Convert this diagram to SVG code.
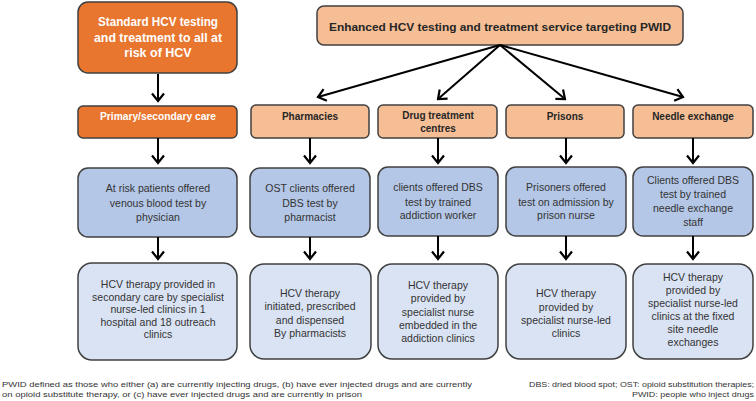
<svg xmlns="http://www.w3.org/2000/svg" width="756" height="401" viewBox="0 0 756 401">
<style>
text{font-family:"Liberation Sans",Arial,sans-serif;text-anchor:middle}
.dark{fill:#E8762F;stroke:#404040;stroke-width:1.5}
.light{fill:#F6BE95;stroke:#404040;stroke-width:1.5}
.blue{fill:#B4C7E7;stroke:#404040;stroke-width:1.5}
.pale{fill:#DAE3F3;stroke:#404040;stroke-width:1.5}
.wt{fill:#ffffff;font-weight:bold}
.bt{fill:#262626;font-weight:bold;font-size:10px}
.nt{fill:#333333;font-size:10.5px}
.fn{fill:#333333;font-size:8px}
.arr{stroke:#000;stroke-width:2;fill:none;marker-end:url(#ah)}
</style>
<defs>
<marker id="ah" viewBox="-9 -7 11 14" markerWidth="11" markerHeight="14" refX="0" refY="0" orient="auto" markerUnits="userSpaceOnUse">
<path d="M-7.5,-6 L0,0 L-7.5,6" fill="none" stroke="#000" stroke-width="2.2"/>
</marker>
</defs>
<rect width="756" height="401" fill="#ffffff"/>

<g id="standard">
<rect class="dark" x="78" y="2" width="159" height="71" rx="10"/>
<text class="wt" x="158" y="26" font-size="12.5" textLength="120" lengthAdjust="spacingAndGlyphs">Standard  HCV testing</text>
<text class="wt" x="158" y="41.5" font-size="12.5" textLength="128" lengthAdjust="spacingAndGlyphs">and treatment to all at</text>
<text class="wt" x="158" y="57" font-size="12.5">risk of HCV</text>
</g>
<g id="enhanced">
<rect class="light" x="317" y="6" width="366" height="39" rx="7"/>
<text class="bt" x="500" y="31" style="font-size:11.5px" textLength="342" lengthAdjust="spacingAndGlyphs">Enhanced  HCV testing and treatment service targeting PWID</text>
</g>

<g id="primary">
<rect class="dark" x="78" y="106" width="159" height="32" rx="5"/>
<text class="wt" x="158" y="119.5" font-size="10" textLength="116" lengthAdjust="spacingAndGlyphs">Primary/secondary care</text>
</g>
<g id="pharmacies">
<rect class="light" x="251" y="105" width="118" height="33" rx="5"/>
<text class="bt" x="310" y="119.5">Pharmacies</text>
</g>
<g id="drug">
<rect class="light" x="378" y="105" width="119" height="33" rx="5"/>
<text class="bt" x="438" y="118.5">Drug treatment</text>
<text class="bt" x="438" y="131.5">centres</text>
</g>
<g id="prisons">
<rect class="light" x="506" y="105" width="118" height="33" rx="5"/>
<text class="bt" x="565" y="119.5">Prisons</text>
</g>
<g id="needle">
<rect class="light" x="633" y="105" width="120" height="33" rx="5"/>
<text class="bt" x="693" y="119.5">Needle exchange</text>
</g>

<g id="test1">
<rect class="blue" x="78" y="168" width="159" height="69" rx="10"/>
<text class="nt" x="158" y="192">At risk patients offered</text>
<text class="nt" x="158" y="206.5">venous blood test by</text>
<text class="nt" x="158" y="221">physician</text>
</g>
<g id="test2">
<rect class="blue" x="250" y="168" width="120" height="69" rx="10"/>
<text class="nt" x="310" y="192">OST clients offered</text>
<text class="nt" x="310" y="206.5">DBS test by</text>
<text class="nt" x="310" y="221">pharmacist</text>
</g>
<g id="test3">
<rect class="blue" x="378" y="167" width="120" height="69" rx="10"/>
<text class="nt" x="438" y="191">clients offered DBS</text>
<text class="nt" x="438" y="205.5">test by trained</text>
<text class="nt" x="438" y="219">addiction worker</text>
</g>
<g id="test4">
<rect class="blue" x="506" y="167" width="120" height="69" rx="10"/>
<text class="nt" x="566" y="191">Prisoners offered</text>
<text class="nt" x="566" y="205.5">test on admission by</text>
<text class="nt" x="566" y="219">prison nurse</text>
</g>
<g id="test5">
<rect class="blue" x="633" y="167" width="120" height="69" rx="10"/>
<text class="nt" x="693" y="184">Clients offered DBS</text>
<text class="nt" x="693" y="198">test by trained</text>
<text class="nt" x="693" y="212">needle exchange</text>
<text class="nt" x="693" y="226">staff</text>
</g>

<g id="therapy1">
<rect class="pale" x="78" y="263" width="159" height="97" rx="14"/>
<text class="nt" x="158" y="288">HCV therapy provided in</text>
<text class="nt" x="158" y="300.5">secondary care by specialist</text>
<text class="nt" x="158" y="313">nurse-led clinics in 1</text>
<text class="nt" x="158" y="325.5">hospital and 18  outreach</text>
<text class="nt" x="158" y="338">clinics</text>
</g>
<g id="therapy2">
<rect class="pale" x="250" y="264" width="121" height="95" rx="14"/>
<text class="nt" x="310" y="297">HCV therapy</text>
<text class="nt" x="310" y="310">initiated, prescribed</text>
<text class="nt" x="310" y="323.5">and dispensed</text>
<text class="nt" x="310" y="336.5">By pharmacists</text>
</g>
<g id="therapy3">
<rect class="pale" x="378" y="264" width="120" height="95" rx="14"/>
<text class="nt" x="438" y="289">HCV therapy</text>
<text class="nt" x="438" y="302">provided by</text>
<text class="nt" x="438" y="315.5">specialist nurse</text>
<text class="nt" x="438" y="328.5">embedded in the</text>
<text class="nt" x="438" y="342">addiction clinics</text>
</g>
<g id="therapy4">
<rect class="pale" x="506" y="264" width="120" height="95" rx="14"/>
<text class="nt" x="566" y="297">HCV therapy</text>
<text class="nt" x="566" y="310.5">provided by</text>
<text class="nt" x="566" y="324">specialist nurse-led</text>
<text class="nt" x="566" y="337">clinics</text>
</g>
<g id="therapy5">
<rect class="pale" x="633" y="264" width="120" height="95" rx="14"/>
<text class="nt" x="693" y="281">HCV therapy</text>
<text class="nt" x="693" y="293.5">provided by</text>
<text class="nt" x="693" y="307">specialist nurse-led</text>
<text class="nt" x="693" y="320">clinics at the fixed</text>
<text class="nt" x="693" y="333">site needle</text>
<text class="nt" x="693" y="346">exchanges</text>
</g>

<g id="connectors">
<line class="arr" x1="158" y1="74" x2="158" y2="101"/>
<line class="arr" x1="500" y1="45" x2="318" y2="97"/>
<line class="arr" x1="500" y1="45" x2="438" y2="99"/>
<line class="arr" x1="500" y1="45" x2="565" y2="99"/>
<line class="arr" x1="500" y1="45" x2="683" y2="97"/>
<line class="arr" x1="158" y1="138" x2="158" y2="163"/>
<line class="arr" x1="310" y1="138" x2="310" y2="163"/>
<line class="arr" x1="438" y1="138" x2="438" y2="163"/>
<line class="arr" x1="566" y1="138" x2="566" y2="163"/>
<line class="arr" x1="693" y1="138" x2="693" y2="163"/>
<line class="arr" x1="158" y1="237" x2="158" y2="259"/>
<line class="arr" x1="310" y1="237" x2="310" y2="259"/>
<line class="arr" x1="438" y1="236" x2="438" y2="259"/>
<line class="arr" x1="566" y1="236" x2="566" y2="259"/>
<line class="arr" x1="693" y1="236" x2="693" y2="259"/>
</g>

<g id="footnotes">
<text class="fn" x="2" y="387" style="text-anchor:start" textLength="470" lengthAdjust="spacingAndGlyphs">PWID defined as those who either (a) are currently injecting drugs, (b) have ever injected drugs and are currently</text>
<text class="fn" x="2" y="397" style="text-anchor:start" textLength="360" lengthAdjust="spacingAndGlyphs">on opioid substitute therapy, or (c) have ever injected drugs and are currently in prison</text>
<text class="fn" x="754" y="387" style="text-anchor:end" textLength="225" lengthAdjust="spacingAndGlyphs">DBS: dried blood spot; OST: opioid substitution therapies;</text>
<text class="fn" x="754" y="397" style="text-anchor:end" textLength="122" lengthAdjust="spacingAndGlyphs">PWID: people who inject drugs</text>
</g>
</svg>
